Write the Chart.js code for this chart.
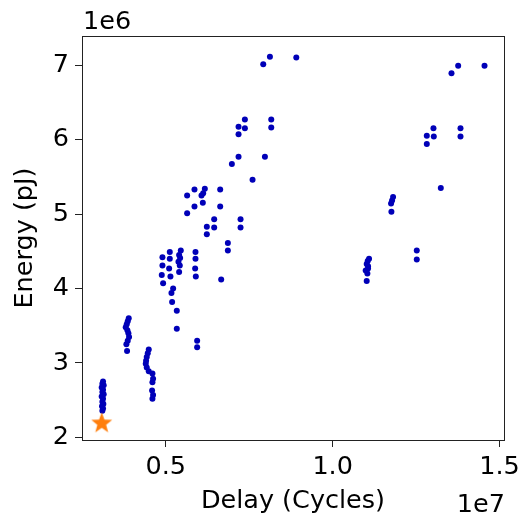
<!DOCTYPE html>
<html>
<head>
<meta charset="utf-8">
<script src="https://cdn.jsdelivr.net/npm/chart.js@4.4.1/dist/chart.umd.min.js"></script>
<style>
	html, body { margin: 0; padding: 0; background: #fff; }
	#wrap { width: 525px; height: 519px; }
</style>
</head>
<body>
<div id="wrap"><canvas id="chartScatter" width="525" height="519"></canvas></div>
<script>
// design points (delay in cycles, energy in pJ)
var delayCycles = [
	3.12e6, 3.10e6, 3.14e6, 3.08e6, 3.12e6, 3.10e6, 3.14e6, 3.08e6, 3.12e6, 3.10e6, 3.13e6, 3.09e6, 3.12e6, 3.10e6,
	3.89e6, 3.86e6, 3.83e6, 3.80e6, 3.85e6, 3.88e6, 3.90e6, 3.86e6, 3.82e6, 3.84e6,
	4.49e6, 4.46e6, 4.43e6, 4.41e6, 4.40e6, 4.43e6, 4.49e6, 4.60e6, 4.62e6, 4.60e6, 4.59e6, 4.62e6, 4.60e6,
	4.90e6, 4.90e6, 4.88e6, 4.92e6, 5.12e6, 5.12e6, 5.10e6, 5.14e6,
	5.45e6, 5.40e6, 5.43e6, 5.38e6, 5.42e6, 5.40e6, 5.89e6, 5.89e6, 5.88e6, 5.90e6,
	6.66e6, 6.86e6, 6.86e6, 5.22e6, 5.17e6, 5.19e6, 5.33e6, 5.33e6, 5.94e6, 5.94e6,
	7.18e6, 6.98e6, 7.60e6, 5.86e6, 5.64e6, 6.17e6, 6.12e6, 6.07e6, 6.11e6, 6.63e6, 6.63e6, 5.86e6, 5.64e6,
	6.45e6, 6.23e6, 6.45e6, 6.23e6, 7.24e6, 7.24e6,
	8.12e6, 7.92e6, 8.91e6, 7.37e6, 7.18e6, 7.37e6, 7.18e6, 8.16e6, 8.16e6, 7.97e6,
	13.76e6, 13.56e6, 14.55e6, 13.02e6, 12.82e6, 13.03e6, 12.82e6, 13.83e6, 13.83e6, 13.24e6,
	11.81e6, 11.75e6, 11.76e6, 11.78e6,
	11.09e6, 11.05e6, 11.02e6, 11.06e6, 11.06e6, 10.99e6, 11.04e6, 11.02e6, 12.52e6, 12.52e6
];
var energyPJ = [
	2.75e6, 2.72e6, 2.70e6, 2.67e6, 2.64e6, 2.61e6, 2.58e6, 2.55e6, 2.52e6, 2.48e6, 2.45e6, 2.42e6, 2.39e6, 2.36e6,
	3.60e6, 3.56e6, 3.52e6, 3.48e6, 3.44e6, 3.40e6, 3.35e6, 3.30e6, 3.25e6, 3.16e6,
	3.18e6, 3.13e6, 3.08e6, 3.03e6, 2.99e6, 2.94e6, 2.89e6, 2.86e6, 2.79e6, 2.74e6, 2.63e6, 2.57e6, 2.52e6,
	4.42e6, 4.31e6, 4.18e6, 4.07e6, 4.49e6, 4.40e6, 4.27e6, 4.16e6,
	4.51e6, 4.45e6, 4.41e6, 4.36e6, 4.31e6, 4.22e6, 4.49e6, 4.40e6, 4.27e6, 4.16e6,
	4.12e6, 4.61e6, 4.51e6, 4.00e6, 3.94e6, 3.82e6, 3.70e6, 3.46e6, 3.30e6, 3.21e6,
	5.77e6, 5.67e6, 5.46e6, 5.33e6, 5.25e6, 5.34e6, 5.28e6, 5.25e6, 5.15e6, 5.33e6, 5.10e6, 5.10e6, 5.01e6,
	4.93e6, 4.83e6, 4.82e6, 4.73e6, 4.93e6, 4.82e6,
	7.11e6, 7.01e6, 7.10e6, 6.27e6, 6.17e6, 6.15e6, 6.07e6, 6.27e6, 6.16e6, 5.77e6,
	6.99e6, 6.89e6, 6.99e6, 6.15e6, 6.05e6, 6.04e6, 5.94e6, 6.15e6, 6.04e6, 5.35e6,
	5.23e6, 5.14e6, 5.03e6, 5.18e6,
	4.40e6, 4.37e6, 4.33e6, 4.30e6, 4.27e6, 4.24e6, 4.20e6, 4.10e6, 4.51e6, 4.39e6
];

// highlighted point (star)
var bestDelay = [3.08e6];
var bestEnergy = [2.19e6];

var xTicks = [0.5e7, 1.0e7, 1.5e7];
var yTicks = [2e6, 3e6, 4e6, 5e6, 6e6, 7e6];

let fontSize = 25.5;
Chart.defaults.font.family = "'DejaVu Sans', sans-serif";
Chart.defaults.font.size = fontSize;
Chart.defaults.color = '#000';

function starImage(r, color) {
	let c = document.createElement('canvas');
	c.width = c.height = r * 2 + 2;
	let g = c.getContext('2d');
	let cx = r + 1, cy = r + 1, inner = r * 0.42;
	g.beginPath();
	for (let i = 0; i < 10; i++) {
		let rad = i % 2 === 0 ? r : inner;
		let a = -Math.PI / 2 + i * Math.PI / 5;
		let px = cx + rad * Math.cos(a), py = cy + rad * Math.sin(a);
		if (i === 0) g.moveTo(px, py); else g.lineTo(px, py);
	}
	g.closePath();
	g.fillStyle = color;
	g.fill();
	return c;
}

let framePlugin = {
	id: 'frame',
	afterDatasetsDraw(chart) {
		let { ctx, chartArea: a } = chart;
		ctx.save();
		ctx.strokeStyle = '#222';
		ctx.lineWidth = 1;
		ctx.strokeRect(Math.round(a.left) + 0.5, Math.round(a.top) + 0.5,
			Math.round(a.right - a.left), Math.round(a.bottom - a.top));
		ctx.restore();
	},
	afterDraw(chart) {
		let { ctx, chartArea: a } = chart;
		ctx.save();
		ctx.fillStyle = '#000';
		ctx.font = fontSize + "px 'DejaVu Sans'";
		ctx.textBaseline = 'alphabetic';
		ctx.textAlign = 'left';
		ctx.fillText('1e6', a.left + 1, a.top - 7);
		ctx.textAlign = 'right';
		ctx.fillText('1e7', a.right + 1, 512);
		ctx.restore();
	}
};

let points = delayCycles.map((x, i) => ({ x: x, y: energyPJ[i] }));
let best = bestDelay.map((x, i) => ({ x: x, y: bestEnergy[i] }));

let ctx = document.getElementById('chartScatter').getContext('2d');
new Chart(ctx, {
	type: 'scatter',
	data: {
		datasets: [{
			label: 'best',
			data: best,
			pointStyle: starImage(11, '#ff7f0e'),
			pointRadius: 11
		},
		{
			label: 'designs',
			data: points,
			backgroundColor: '#0000b8',
			borderColor: '#0000b8',
			borderWidth: 0,
			pointRadius: 3
		}]
	},
	plugins: [framePlugin],
	options: {
		responsive: false,
		animation: false,
		layout: { padding: { top: 36, right: 17, left: 0, bottom: 0 } },
		plugins: {
			legend: { display: false },
			tooltip: { enabled: false }
		},
		scales: {
			x: {
				type: 'linear',
				min: 2.49e6,
				max: 15.13e6,
				afterBuildTicks: (s) => { s.ticks = xTicks.map(v => ({ value: v })); },
				afterFit: (s) => { s.height = 79; },
				border: { display: false },
				grid: {
					display: true,
					drawOnChartArea: false,
					drawTicks: true,
					tickLength: 7,
					tickColor: '#222'
				},
				ticks: {
					padding: 5,
					maxRotation: 0,
					callback: (v) => (v / 1e7).toFixed(1)
				},
				title: {
					display: true,
					text: 'Delay (Cycles)',
					padding: { top: 0, bottom: 2 }
				}
			},
			y: {
				type: 'linear',
				min: 1.966e6,
				max: 7.39e6,
				afterBuildTicks: (s) => { s.ticks = yTicks.map(v => ({ value: v })); },
				afterFit: (s) => { s.width = 82; },
				border: { display: false },
				grid: {
					display: true,
					drawOnChartArea: false,
					drawTicks: true,
					tickLength: 7,
					tickColor: '#222'
				},
				ticks: {
					padding: 6,
					callback: (v) => String(v / 1e6)
				},
				title: {
					display: true,
					text: 'Energy (pJ)',
					padding: { top: 10, bottom: 0 }
				}
			}
		}
	}
});
</script>
</body>
</html>
